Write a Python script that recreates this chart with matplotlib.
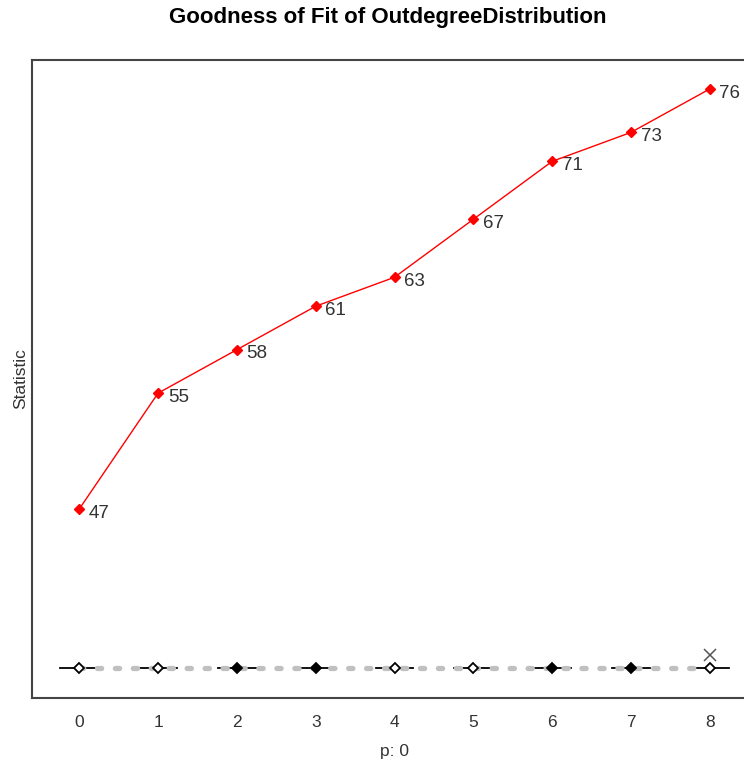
import numpy as np
import matplotlib.pyplot as plt

plt.rcParams['font.family'] = ['Liberation Sans', 'DejaVu Sans']

# -----------------------------
# data
# -----------------------------
outdegree = [0, 1, 2, 3, 4, 5, 6, 7, 8]
observed = [47, 55, 58, 61, 63, 67, 71, 73, 76]
simulated = [36, 36, 36, 36, 36, 36, 36, 36, 36]
box_filled = [False, False, True, True, False, False, True, True, False]
outlier_x = [8]
outlier_y = [36.9]

fig = plt.figure(figsize=(7.44, 7.62), dpi=100)
ax = fig.add_axes([32 / 744, 1 - 698 / 762, (757 - 32) / 744, (698 - 60) / 762])

# collapsed violins / boxes along the bottom
for x, y in zip(outdegree, simulated):
    ax.plot([x - 0.24, x + 0.24], [y, y], color="black", lw=1.3, zorder=2)

# 5% / 95% band (collapsed onto the same line)
ax.plot(outdegree, simulated, color="#c0c0c0", lw=3.8, linestyle=(0, (0.8, 2.6)),
        dash_capstyle="round", zorder=3)

for x, y, f in zip(outdegree, simulated, box_filled):
    ax.plot(x, y, marker="D", ms=5, mec="black", mew=1.3,
            mfc="black" if f else "white", zorder=4)

ax.plot(outlier_x, outlier_y, marker="x", ms=9, color="#555555", mew=1.1, ls="none")

# observed statistics
ax.plot(outdegree, observed, color="red", lw=1, marker="D", ms=5.5,
        mfc="red", mec="red", zorder=5)
for x, y in zip(outdegree, observed):
    ax.annotate(str(y), (x, y), xytext=(7, -3), textcoords="offset points",
                ha="left", va="center", fontsize=13.5, color="#333333")

ax.set_xlim(-0.6, 8.6)
ax.set_ylim(33.95, 78.0)
ax.set_xticks(outdegree)
ax.set_xticklabels([str(v) for v in outdegree], fontsize=12.5, color="#333333")
ax.set_yticks([])
ax.tick_params(axis="x", length=0, pad=12)
for s in ["left", "bottom", "top"]:
    ax.spines[s].set_color("#444444")
    ax.spines[s].set_linewidth(1.5)
ax.spines["right"].set_visible(False)

ax.set_xlabel("p: 0", fontsize=12.5, color="#333333", labelpad=10)
ax.set_ylabel("Statistic", fontsize=12.5, color="#333333", labelpad=3)
fig.text(388 / 744, 1 - 18 / 762, "Goodness of Fit of OutdegreeDistribution",
         ha="center", va="center", fontsize=16, fontweight="bold")

fig.savefig("out.png", dpi=100)
